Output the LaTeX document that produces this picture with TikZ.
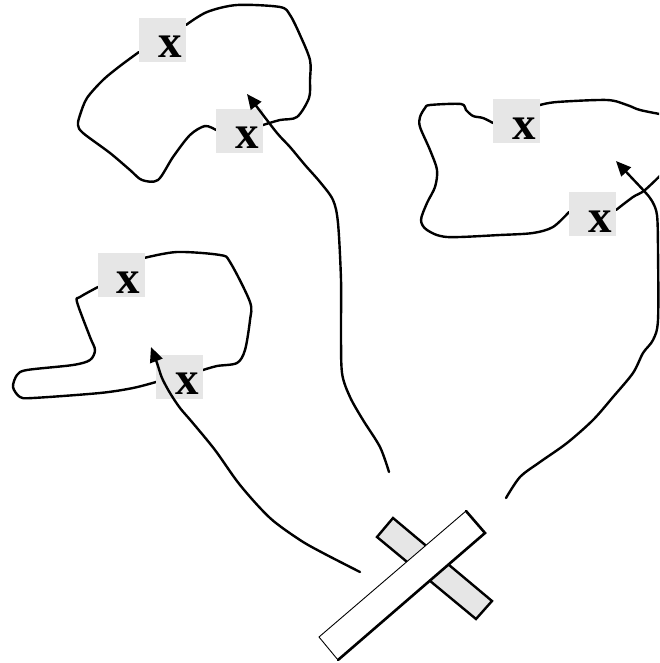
\documentclass[tikz,border=0pt]{standalone}
\usepackage{fontspec}
\setmainfont{Liberation Serif}
\usetikzlibrary{arrows.meta,calc}
\definecolor{boxgray}{HTML}{E6E6E6}
\tikzset{
  curve/.style={line width=2.4pt, line cap=round, line join=round},
  arr/.style={curve, -{Triangle[length=15pt,width=13pt]}},
  gbox/.style={fill=boxgray, draw=none, minimum width=47pt, minimum height=44pt, inner sep=0pt},
  xlab/.style={font=\fontsize{47}{47}\selectfont\bfseries, inner sep=0pt, anchor=base},
}
\begin{document}
\begin{tikzpicture}[x=1pt,y=-1pt]
\useasboundingbox (0,0) rectangle (659,663);
\begin{scope}
\clip (0,0) rectangle (659,663);
% top-left blob
\draw[curve] plot[smooth,tension=0.5] coordinates {(186,25) (207,12) (237,5) (280,7) (290,15) (300,35) (310,60) (310,80) (309,98) (297,117) (280,120) (263,125)};
\draw[curve] plot[smooth,tension=0.5] coordinates {(139,52) (120,66) (103,80) (87,98) (80,115) (78,125) (83,133) (110,153) (130,170) (142,180) (158,180) (173,157) (190,135) (205,126) (216,130)};
% right blob
\draw[curve] plot[smooth,tension=0.5] coordinates {(540,105) (557,102) (607,100) (627,105) (640,110) (665,115)};
\draw[curve] plot[smooth,tension=0.5] coordinates {(616,210) (633,197) (645,190) (668,168)};
\draw[curve] plot[smooth,tension=0.5] coordinates {(493,123) (483,118) (473,116) (466,110) (461,104) (430,105) (425,108) (420,117) (420,127) (430,150) (437,170) (435,187) (427,203) (421,220) (427,230) (447,237) (500,235) (533,233) (553,227) (569,212)};
% left blob
\draw[curve] plot[smooth,tension=0.5] coordinates {(144,258) (177,252) (220,255) (230,262) (250,302) (250,320) (245,350) (237,363) (217,366) (203,370)};
\draw[curve] plot[smooth,tension=0.5] coordinates {(98,287) (80,297) (77,302) (90,337) (95,350) (90,360) (73,365) (27,370) (17,375) (13,387) (20,397) (33,398) (100,393) (133,388) (156,382)};
\end{scope}
% label boxes
\node[gbox] (b1) at (162.5,40) {};
\node[gbox] (b2) at (239.5,131) {};
\node[gbox] (b3) at (516.5,121.5) {};
\node[gbox] (b4) at (592.5,214) {};
\node[gbox] (b5) at (121,275) {};
\node[gbox] (b6) at (179.5,376.5) {};
\foreach \b in {1,...,6}{
  \node[xlab] (x\b) at ($(b\b.center)+(7.5,18)$) {x};
}
% arrows
\coordinate (a1s) at (389,472);
\coordinate (a1t) at (247,94);
\draw[arr] plot[smooth,tension=0.5] coordinates {(a1s) (380,447) (363,420) (350,397) (342,373) (341,330) (341,280) (338,223) (333,200) (320,182) (305,165) (290,147) (277,133) (257,107) (a1t)};
\coordinate (a2s) at (506,498);
\coordinate (a2t) at (616,161);
\draw[arr] plot[smooth,tension=0.5] coordinates {(a2s) (520,477) (540,462) (567,443) (593,420) (613,397) (633,373) (643,353) (653,340) (658,320) (658,250) (657,215) (652,201) (645,192) (630,176) (a2t)};
\coordinate (a3s) at (360,572);
\coordinate (a3t) at (151,347);
\draw[arr] plot[smooth,tension=0.5] coordinates {(a3s) (323,553) (300,540) (270,518) (240,485) (215,450) (192,422) (180,408) (170,393) (162,378) (157,363) (a3t)};
% cross
\draw[fill=boxgray, line width=2.4pt, line join=miter] (377,537) -- (393,518) -- (492,601) -- (476,619) -- cycle;
\draw[fill=white, line width=0.9pt] (319,637) -- (466,511) -- (485,533) -- (338,660) -- cycle;
\draw[line width=2.6pt, line join=miter, line cap=round] (466,511) -- (485,533) -- (338,660);
\end{tikzpicture}
\end{document}
